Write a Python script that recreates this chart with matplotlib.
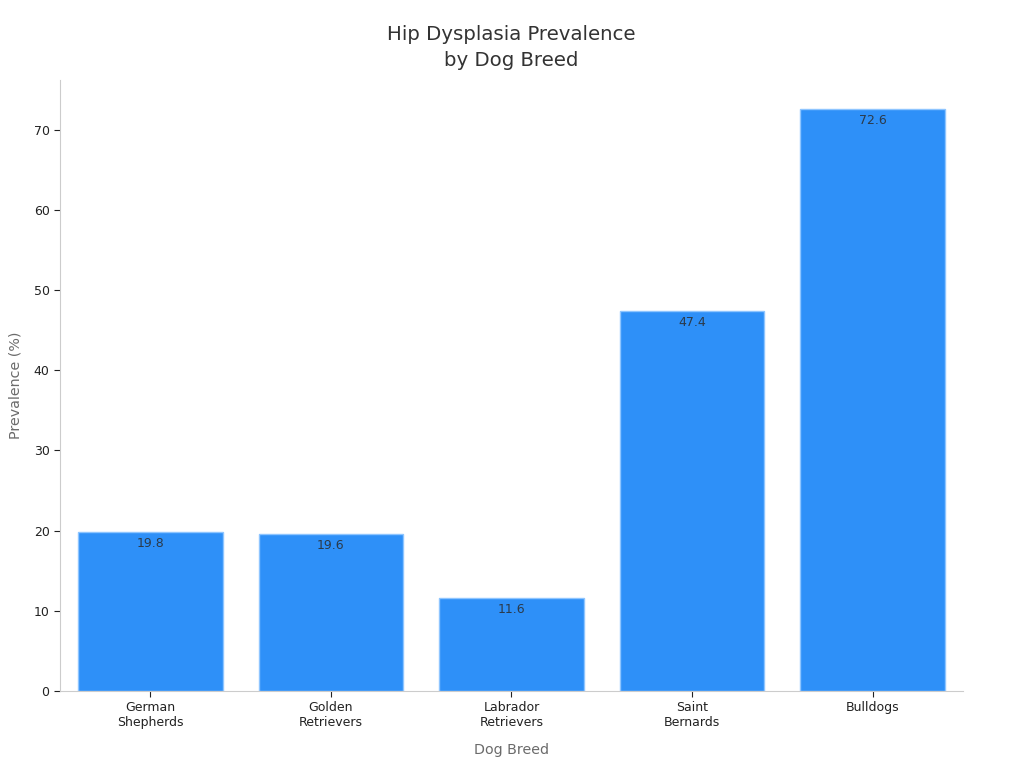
import matplotlib
matplotlib.use("Agg")
import matplotlib.pyplot as plt

# data
breeds = ["German\nShepherds", "Golden\nRetrievers", "Labrador\nRetrievers", "Saint\nBernards", "Bulldogs"]
prevalence = [19.8, 19.6, 11.6, 47.4, 72.6]

fig = plt.figure(figsize=(10.24, 7.68), dpi=100)
ax = fig.add_axes([0.0586, 0.1003, 0.8818, 0.7957])

x = range(len(breeds))
bars = ax.bar(x, prevalence, width=0.8, color="#2E90F8", edgecolor="#8EC5FF", linewidth=1)
for b, v in zip(bars, prevalence):
    ax.text(b.get_x() + b.get_width() / 2, v - 0.6, f"{v}", ha="center", va="top",
            fontsize=9, color="#2b3a4a")

ax.set_xlim(-0.5, len(breeds) - 0.5)
ax.set_ylim(0, max(prevalence) * 1.05)
ax.set_xticks(list(x))
ax.set_xticklabels(breeds, fontsize=9, color="#222222")
ax.set_yticks(range(0, 80, 10))
ax.tick_params(axis="y", labelsize=9, colors="#222222", length=4)
ax.tick_params(axis="x", length=4, colors="#222222")
for s in ["top", "right"]:
    ax.spines[s].set_visible(False)
for s in ["left", "bottom"]:
    ax.spines[s].set_color("#cccccc")

ax.set_xlabel("Dog Breed", fontsize=10.3, color="#6b6b6b", labelpad=10)
ax.set_ylabel("Prevalence (%)", fontsize=10.3, color="#6b6b6b", labelpad=8)
ax.set_title("Hip Dysplasia Prevalence\nby Dog Breed", fontsize=14.2, color="#333333",
             pad=10, linespacing=1.45)

fig.savefig("out.png", dpi=100)
